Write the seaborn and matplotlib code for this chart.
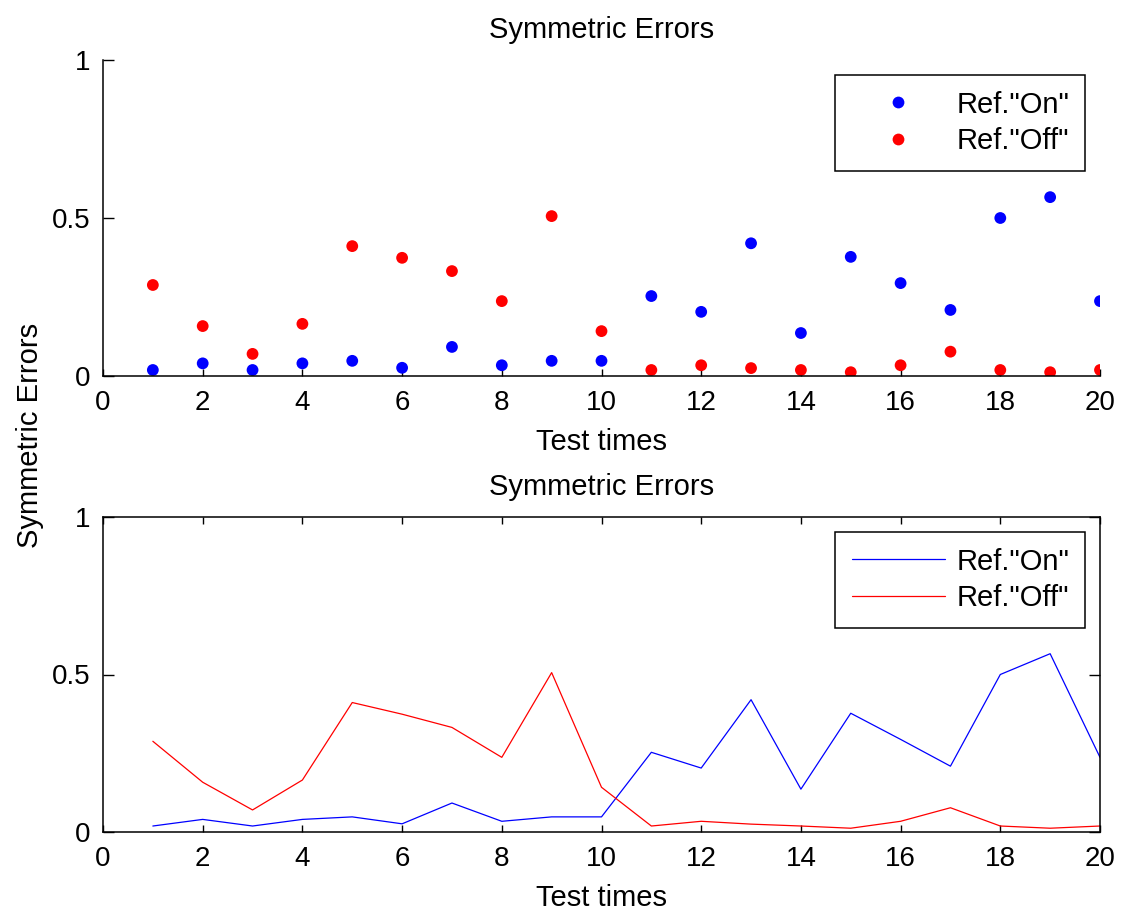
import numpy as np
import pandas as pd
import matplotlib
matplotlib.use("Agg")
import matplotlib.pyplot as plt
import seaborn as sns

test_times = list(range(1, 21))
ref_on = [0.019, 0.040, 0.019, 0.040, 0.048, 0.026, 0.092, 0.034, 0.048, 0.048,
          0.253, 0.203, 0.420, 0.136, 0.377, 0.294, 0.209, 0.500, 0.566, 0.237]
ref_off = [0.288, 0.158, 0.070, 0.165, 0.411, 0.374, 0.332, 0.237, 0.506, 0.142,
           0.019, 0.034, 0.025, 0.019, 0.012, 0.034, 0.077, 0.019, 0.012, 0.019]
series_names = ['Ref."On"', 'Ref."Off"']
series_colors = {'Ref."On"': "blue", 'Ref."Off"': "red"}
x_ticks = list(range(0, 21, 2))
y_ticks = [0, 0.5, 1]
y_tick_labels = ["0", "0.5", "1"]
title_text = "Symmetric Errors"
xlabel_text = "Test times"
ylabel_text = "Symmetric Errors"

df = pd.DataFrame({
    "Test times": test_times * 2,
    "Error": ref_on + ref_off,
    "Series": [series_names[0]] * len(ref_on) + [series_names[1]] * len(ref_off),
})

sns.set_style("ticks")
plt.rcParams["font.family"] = ["Liberation Sans", "DejaVu Sans"]
plt.rcParams["text.color"] = "black"
plt.rcParams["axes.labelcolor"] = "black"
plt.rcParams["xtick.color"] = "black"
plt.rcParams["ytick.color"] = "black"

W, H = 1123, 911
fig = plt.figure(figsize=(W / 100, H / 100), dpi=100)

def rect(l, t, r, b):
    return [l / W, 1 - b / H, (r - l) / W, (b - t) / H]

ax1 = fig.add_axes(rect(103, 60, 1100, 376))
ax2 = fig.add_axes(rect(103, 517, 1100, 832))

sns.scatterplot(data=df, x="Test times", y="Error", hue="Series",
                hue_order=series_names, palette=series_colors,
                s=72, linewidth=0, ax=ax1)
sns.lineplot(data=df, x="Test times", y="Error", hue="Series",
             hue_order=series_names, palette=series_colors,
             linewidth=0.9, ax=ax2)

FS = 21
for ax in (ax1, ax2):
    ax.set_xlim(0, 20)
    ax.set_ylim(0, 1)
    ax.set_xticks(x_ticks)
    ax.set_yticks(y_ticks)
    ax.set_yticklabels(y_tick_labels)
    ax.set_title(title_text, fontsize=FS, pad=16, color="black")
    ax.set_xlabel(xlabel_text, fontsize=FS, labelpad=9)
    ax.set_ylabel("")
    ax.tick_params(direction="in", width=1, labelsize=20, colors="black")
    ax.tick_params(axis="x", length=5, pad=10)
    ax.tick_params(axis="y", length=8, pad=9)
    for sp in ax.spines.values():
        sp.set_linewidth(1.1)
        sp.set_color("black")
    handles, labels = ax.get_legend_handles_labels()
    leg = ax.legend(handles, labels, loc="upper right", fontsize=FS,
                    frameon=True, fancybox=False, framealpha=1,
                    edgecolor="black", borderpad=0.55, handlelength=3.2,
                    handletextpad=0.4, labelspacing=0.3,
                    borderaxespad=0.5)
    leg.get_frame().set_linewidth(1.1)

sns.despine(ax=ax1, top=True, right=True)
ax2.tick_params(top=True, right=True, labeltop=False, labelright=False)

fig.text(30 / W, 1 - 435 / H, ylabel_text, rotation=90, ha="center",
         va="center", fontsize=FS, color="black")

fig.savefig("out.png", dpi=100, facecolor="white")
